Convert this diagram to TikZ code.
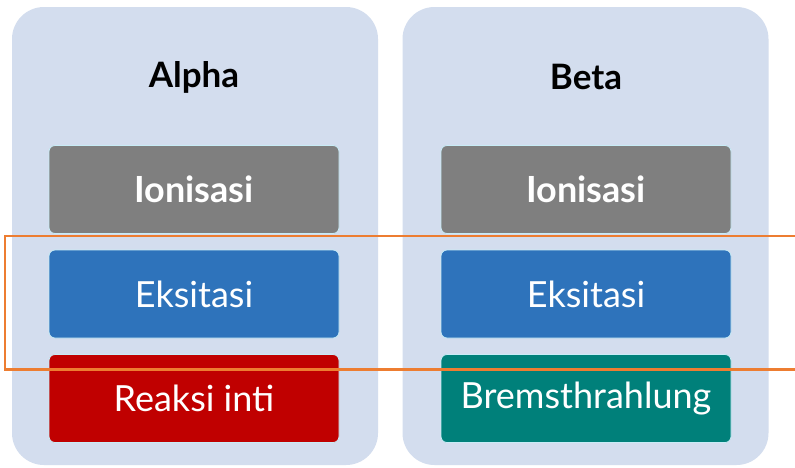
\documentclass[tikz,border=0pt]{standalone}
\usepackage{fontspec}
\setmainfont{Lato}
\definecolor{panelbg}{HTML}{D3DDEE}
\definecolor{grayitem}{HTML}{7F7F7F}
\definecolor{blueitem}{HTML}{2E73BB}
\definecolor{reditem}{HTML}{C00000}
\definecolor{tealitem}{HTML}{00807A}
\definecolor{itemedge}{HTML}{C8ECF6}
\definecolor{hl}{HTML}{ED7D31}
\begin{document}
\begin{tikzpicture}[x=1pt,y=-1pt,
  panel/.style={fill=panelbg, rounded corners=32pt, minimum width=366pt, minimum height=458pt, inner sep=0pt},
  title/.style={font=\fontsize{35}{40}\selectfont\bfseries, text=black},
  item/.style={draw=itemedge, line width=0.8pt, rounded corners=6pt, minimum width=290pt, minimum height=88pt, inner sep=0pt, text=white, font=\fontsize{36}{40}\selectfont},
  itembold/.style={item, font=\fontsize{36}{40}\selectfont\bfseries},
  highlight/.style={draw=hl, line width=2.2pt}]
\useasboundingbox (0,0) rectangle (795,467);
\fill[white] (0,0) rectangle (795,467);
\node[panel] (pA) at (195,236) {};
\node[panel] (pB) at (585.5,236) {};
\node[title] (tA) at (194,77) {Alpha};
\node[title] (tB) at (586,77) {Beta};
\node[itembold, fill=grayitem] (a1) at (194,189.5) {Ionisasi};
\node[item, fill=blueitem] (a2) at (194,294) {Eksitasi};
\node[item, fill=reditem] (a3) at (194,398.5) {Reaksi inti};
\node[itembold, fill=grayitem] (b1) at (586,189.5) {Ionisasi};
\node[item, fill=blueitem] (b2) at (586,294) {Eksitasi};
\node[item, fill=tealitem] (b3) at (586,398.5) {Bremsthrahlung};
\draw[highlight] (5,236) rectangle (810,369.5);
\end{tikzpicture}
\end{document}
